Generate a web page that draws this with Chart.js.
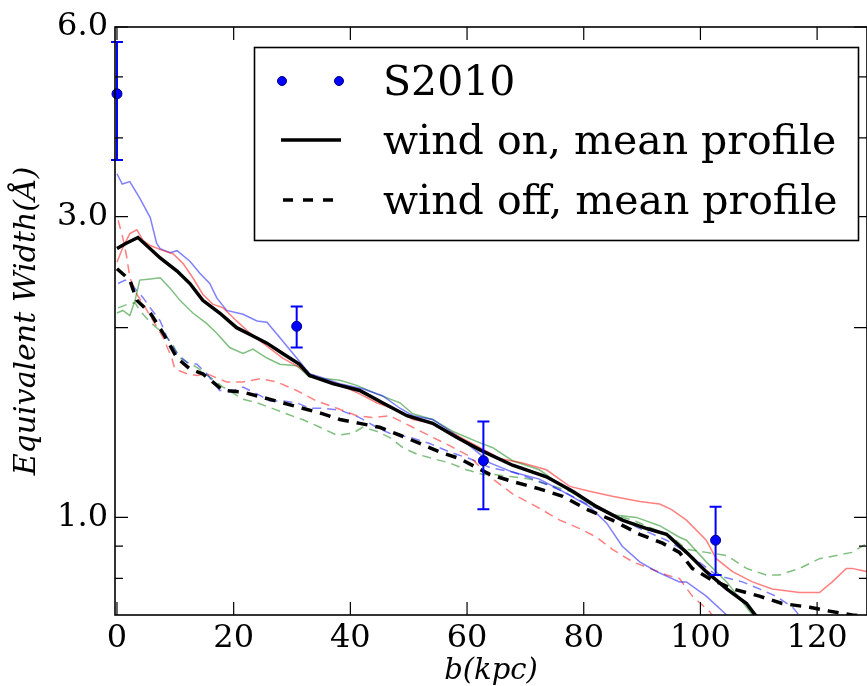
<!DOCTYPE html>
<html><head><meta charset="utf-8">
<script src="https://cdn.jsdelivr.net/npm/chart.js@4.4.0/dist/chart.umd.min.js"></script>
<style>html,body{margin:0;padding:0;background:#fff;overflow:hidden}canvas{display:block}</style>
</head><body>
<canvas id="c" width="867" height="686"></canvas>
<script>
// ---- data ----
const xTicks = [0, 20, 40, 60, 80, 100, 120];
const yTickValues = [0.8, 0.9, 1, 2, 3, 4, 5, 6];
const yLabeled = [1, 3, 6];

const obsX  = [0, 30.8, 62.8, 102.6];
const obsY  = [4.70, 2.01, 1.23, 0.92];
const obsHi = [5.68, 2.16, 1.42, 1.04];
const obsLo = [3.69, 1.86, 1.03, 0.81];

const onMeanX = [0,1.5,3.6,7.4,10.3,12.5,14.7,17.6,20.5,23.3,25.7,28.4,31.3,33.0,37.0,41.6,45.5,49.7,54.1,58.2,62.2,67.8,73.6,78.1,82.2,86.6,90.8,94.2,97.6,101.0,104.5,107.9,109.4,112];
const onMeanY = [2.67,2.72,2.78,2.58,2.46,2.35,2.21,2.11,2.00,1.94,1.89,1.82,1.75,1.68,1.63,1.59,1.52,1.45,1.41,1.34,1.28,1.21,1.16,1.10,1.04,0.99,0.96,0.94,0.88,0.82,0.77,0.73,0.70,0.66];

const offMeanX = [0,2.2,3.4,5.7,7.9,10.3,12.5,14.7,18.2,21.6,25.0,28.4,31.8,35.3,38.2,41.6,45.0,48.5,51.9,55.3,58.7,61.6,63.9,67.8,72.4,76.4,80.5,84.9,89.6,93.5,96.4,98.6,101.5,105.5,110.1,114.0,118.7,122.1,126.0,129];
const offMeanY = [2.48,2.38,2.21,2.11,1.96,1.79,1.72,1.69,1.59,1.58,1.55,1.52,1.49,1.46,1.43,1.41,1.39,1.35,1.31,1.27,1.24,1.20,1.17,1.14,1.11,1.08,1.03,0.99,0.94,0.91,0.88,0.83,0.80,0.77,0.75,0.73,0.72,0.71,0.70,0.695];

const onBlueX = [0,0.9,2.2,3.9,5.7,6.8,7.4,9.1,10.3,12.5,14.2,15.9,17.1,18.8,21.6,24.0,25.7,27.9,30.8,33.0,34.8,38.2,42.1,45.5,48.5,50.7,54.1,58.2,62.2,63.9,67.8,72.4,76.4,81.0,83.9,86.6,89.6,92.5,96.4,97.6,101.0,104.5,106];
const onBlueY = [3.51,3.38,3.41,3.21,2.99,2.72,2.67,2.63,2.65,2.55,2.44,2.35,2.23,2.13,2.10,2.05,2.04,1.93,1.79,1.69,1.67,1.63,1.60,1.56,1.49,1.45,1.43,1.35,1.26,1.22,1.18,1.15,1.10,1.04,0.98,0.90,0.85,0.82,0.79,0.79,0.75,0.70,0.68];

const onRedX = [0,1.0,2.2,3.4,4.5,5.7,7.9,9.6,11.3,13.0,14.7,16.4,18.2,20.5,22.8,25.7,28.4,31.3,33.0,37.7,41.6,44.5,47.9,50.7,54.1,58.2,62.2,65.6,69.5,73.6,77.6,81.0,84.9,89.6,93.0,95.0,97.6,101.0,102.7,105.5,108.9,112.3,117.0,120.4,122.6,125.0,126.0,128.6];
const onRedY = [2.54,2.68,2.82,2.86,2.75,2.70,2.65,2.62,2.53,2.40,2.26,2.18,2.15,2.05,1.96,1.87,1.79,1.73,1.68,1.63,1.57,1.52,1.48,1.43,1.41,1.35,1.29,1.24,1.22,1.19,1.12,1.10,1.08,1.06,1.05,1.03,0.99,0.92,0.86,0.82,0.79,0.77,0.76,0.76,0.79,0.83,0.83,0.82];

const onGreenX = [0,1.0,2.2,3.1,3.9,5.7,7.4,9.1,10.8,13.0,15.4,17.1,19.3,21.6,23.3,25.7,27.9,30.8,33.0,38.2,41.1,44.5,48.5,50.7,54.1,57.5,61.6,64.4,67.8,72.4,76.4,81.0,84.9,89.0,93.0,96.4,97.6,101.0,104.5,107.9,110];
const onGreenY = [2.11,2.13,2.09,2.21,2.38,2.39,2.40,2.31,2.21,2.11,2.03,1.96,1.86,1.82,1.85,1.79,1.75,1.74,1.67,1.65,1.62,1.57,1.52,1.46,1.43,1.37,1.32,1.29,1.23,1.19,1.12,1.05,1.01,1.00,0.97,0.93,0.92,0.85,0.79,0.72,0.68];

const offRedX = [0.2,1.0,1.7,2.2,3.4,4.5,6.2,7.9,9.4,9.9,12.0,13.7,15.4,18.8,21.6,24.5,27.4,30.8,34.2,37.7,41.1,43.8,46.7,50.7,54.1,57.0,60.4,63.9,67.8,71.9,75.9,79.3,82.2,84.9,88.4,91.3,94.2,96.4,98.6,101.5,103];
const offRedY = [2.96,2.78,2.58,2.40,2.26,2.18,2.05,1.93,1.79,1.72,1.69,1.68,1.69,1.64,1.64,1.66,1.64,1.59,1.53,1.49,1.45,1.44,1.45,1.39,1.34,1.30,1.25,1.16,1.09,1.04,0.99,0.96,0.93,0.89,0.85,0.83,0.81,0.80,0.75,0.71,0.68];

const offBlueX = [0.2,1.4,2.2,4.5,5.7,7.4,8.6,10.3,12.0,13.7,15.4,17.6,19.9,21.6,24.0,26.2,28.4,30.8,33.0,35.3,38.2,41.6,44.5,46.7,50.2,53.6,57.0,60.4,63.9,67.8,72.4,76.4,80.5,84.9,89.6,94.2,97.6,102.7,107.2,110.1,112.9,115.8,118];
const offBlueY = [2.35,2.38,2.36,2.23,2.15,2.05,1.93,1.82,1.76,1.75,1.69,1.59,1.59,1.61,1.57,1.53,1.53,1.52,1.49,1.49,1.48,1.44,1.39,1.36,1.34,1.31,1.27,1.24,1.20,1.18,1.14,1.10,1.05,1.01,0.96,0.92,0.88,0.81,0.79,0.77,0.75,0.72,0.68];

const offGreenX = [0.2,1.9,3.1,3.9,5.7,7.9,9.4,10.8,13.7,15.9,18.2,21.6,24.0,27.4,30.8,31.8,34.8,37.7,40.4,42.1,44.5,46.7,49.0,51.4,54.1,57.0,59.9,62.7,64.4,67.8,70.7,73.6,77.6,81.0,84.9,88.4,91.8,95.2,97.6,101.0,104.5,107.9,111.3,113.5,117.0,120.4,123.3,126.0,128.6];
const offGreenY = [2.15,2.18,2.19,2.13,2.04,1.96,1.89,1.79,1.73,1.67,1.61,1.54,1.52,1.48,1.44,1.43,1.39,1.35,1.36,1.39,1.37,1.34,1.29,1.26,1.24,1.22,1.19,1.17,1.17,1.16,1.15,1.13,1.10,1.06,1.01,0.99,0.96,0.93,0.89,0.88,0.87,0.83,0.81,0.81,0.83,0.86,0.87,0.88,0.91];

const legendLabels = ['S2010', 'wind on, mean profile', 'wind off, mean profile'];

// ---- helpers ----
const pts = (xs, ys) => xs.map((x, i) => ({x: x, y: ys[i]}));
const SERIF = "'DejaVu Serif', serif";

function lineDS(label, xs, ys, color, width, dash, order) {
  return {label, data: pts(xs, ys), showLine: true, borderColor: color, borderWidth: width,
    borderDash: dash, pointRadius: 0, pointHoverRadius: 0, fill: false, tension: 0, order: order};
}

const datasets = [
  {label: legendLabels[0], data: pts(obsX, obsY), showLine: false, pointRadius: 5,
   pointBackgroundColor: '#0000ff', pointBorderColor: '#00007a', pointBorderWidth: 1, order: 0, clip: false},
  lineDS(legendLabels[1], onMeanX, onMeanY, '#000', 3.5, [], 1),
  lineDS(legendLabels[2], offMeanX, offMeanY, '#000', 3.5, [11, 8], 1),
  lineDS('on red', onRedX, onRedY, 'rgba(255,0,0,0.5)', 1.5, [], 2),
  lineDS('on blue', onBlueX, onBlueY, 'rgba(0,0,255,0.5)', 1.5, [], 2),
  lineDS('on green', onGreenX, onGreenY, 'rgba(0,128,0,0.5)', 1.5, [], 2),
  lineDS('off red', offRedX, offRedY, 'rgba(255,0,0,0.5)', 1.5, [9, 6], 2),
  lineDS('off blue', offBlueX, offBlueY, 'rgba(0,0,255,0.5)', 1.5, [9, 6], 2),
  lineDS('off green', offGreenX, offGreenY, 'rgba(0,128,0,0.5)', 1.5, [9, 6], 2)
];

const yLong = [1, 2, 3, 6];

const decor = {
  id: 'decor',
  beforeDatasetDraw(chart, args) {
    if (args.index !== 0) return;
    const ctx = chart.ctx, xs = chart.scales.x, ys = chart.scales.y;
    ctx.save();
    ctx.strokeStyle = '#0000ff';
    ctx.lineWidth = 2;
    for (let i = 0; i < obsX.length; i++) {
      const px = xs.getPixelForValue(obsX[i]);
      const yt = ys.getPixelForValue(obsHi[i]);
      const yb = ys.getPixelForValue(obsLo[i]);
      ctx.beginPath();
      ctx.moveTo(px, yt); ctx.lineTo(px, yb);
      ctx.moveTo(px - 6, yt); ctx.lineTo(px + 6, yt);
      ctx.moveTo(px - 6, yb); ctx.lineTo(px + 6, yb);
      ctx.stroke();
    }
    ctx.restore();
  },
  afterDatasetsDraw(chart) {
    const ctx = chart.ctx, a = chart.chartArea, xs = chart.scales.x, ys = chart.scales.y;
    ctx.save();
    ctx.strokeStyle = '#000';
    ctx.lineWidth = 1.2;
    ctx.beginPath();
    xTicks.forEach(v => {
      const px = xs.getPixelForValue(v);
      ctx.moveTo(px, a.bottom); ctx.lineTo(px, a.bottom - 13);
      ctx.moveTo(px, a.top); ctx.lineTo(px, a.top + 13);
    });
    yTickValues.forEach(v => {
      const py = ys.getPixelForValue(v);
      const L = yLong.includes(v) ? 13 : 8;
      ctx.moveTo(a.left, py); ctx.lineTo(a.left + L, py);
      ctx.moveTo(a.right, py); ctx.lineTo(a.right - L, py);
    });
    ctx.stroke();
    ctx.lineWidth = 1.6;
    ctx.strokeRect(a.left, a.top, a.right - a.left, a.bottom - a.top);
    ctx.restore();
  },
  afterDraw(chart) {
    const ctx = chart.ctx;
    ctx.save();
    ctx.fillStyle = '#fff';
    ctx.fillRect(254, 47, 604, 193);
    ctx.strokeStyle = '#000';
    ctx.lineWidth = 1.6;
    ctx.strokeRect(254.5, 47.5, 604, 193);
    [282, 339].forEach(x => {
      ctx.beginPath();
      ctx.arc(x, 81, 4.5, 0, Math.PI * 2);
      ctx.fillStyle = '#0000ff'; ctx.fill();
      ctx.lineWidth = 1; ctx.strokeStyle = '#00007a'; ctx.stroke();
    });
    ctx.strokeStyle = '#000';
    ctx.lineWidth = 3.5;
    ctx.beginPath(); ctx.moveTo(281, 140); ctx.lineTo(341, 140); ctx.stroke();
    ctx.setLineDash([10, 10]);
    ctx.beginPath(); ctx.moveTo(283, 200); ctx.lineTo(341, 200); ctx.stroke();
    ctx.setLineDash([]);
    ctx.fillStyle = '#000';
    ctx.font = "41px " + SERIF;
    ctx.textAlign = 'left';
    ctx.textBaseline = 'alphabetic';
    ctx.fillText(legendLabels[0], 383, 95);
    ctx.fillText(legendLabels[1], 383, 154);
    ctx.fillText(legendLabels[2], 383, 214);
    ctx.restore();
  }
};

new Chart(document.getElementById('c'), {
  type: 'scatter',
  data: {datasets},
  options: {
    responsive: false,
    animation: false,
    devicePixelRatio: 1,
    layout: {autoPadding: false, padding: {top: 27, right: -1, left: 0, bottom: 0}},
    plugins: {legend: {display: false}, tooltip: {enabled: false}},
    scales: {
      x: {
        type: 'linear', min: -0.34, max: 128.55,
        afterBuildTicks: s => { s.ticks = xTicks.map(v => ({value: v})); },
        afterFit: s => { s.height = 71; s.paddingLeft = 0; s.paddingRight = 0; },
        grid: {display: false, drawTicks: false},
        border: {display: false},
        ticks: {font: {family: SERIF, size: 32}, color: '#000', padding: 4, maxRotation: 0, autoSkip: false,
                callback: v => String(v)},
        title: {display: true, text: 'b(kpc)', color: '#000', padding: {top: 0, bottom: 0},
                font: {family: SERIF, size: 29, style: 'italic', lineHeight: 1}}
      },
      y: {
        type: 'logarithmic', min: 0.7, max: 6.0,
        afterBuildTicks: s => { s.ticks = yTickValues.map(v => ({value: v})); },
        afterFit: s => { s.width = 115; },
        grid: {display: false, drawTicks: false},
        border: {display: false},
        ticks: {font: {family: SERIF, size: 32}, color: '#000', padding: 7, autoSkip: false,
                callback: v => yLabeled.includes(v) ? v.toFixed(1) : ''},
        title: {display: true, text: 'Equivalent Width(Å)', color: '#000', padding: {top: 12, bottom: 0},
                font: {family: SERIF, size: 30, style: 'italic', lineHeight: 1}}
      }
    }
  },
  plugins: [decor]
});
</script>
</body></html>
